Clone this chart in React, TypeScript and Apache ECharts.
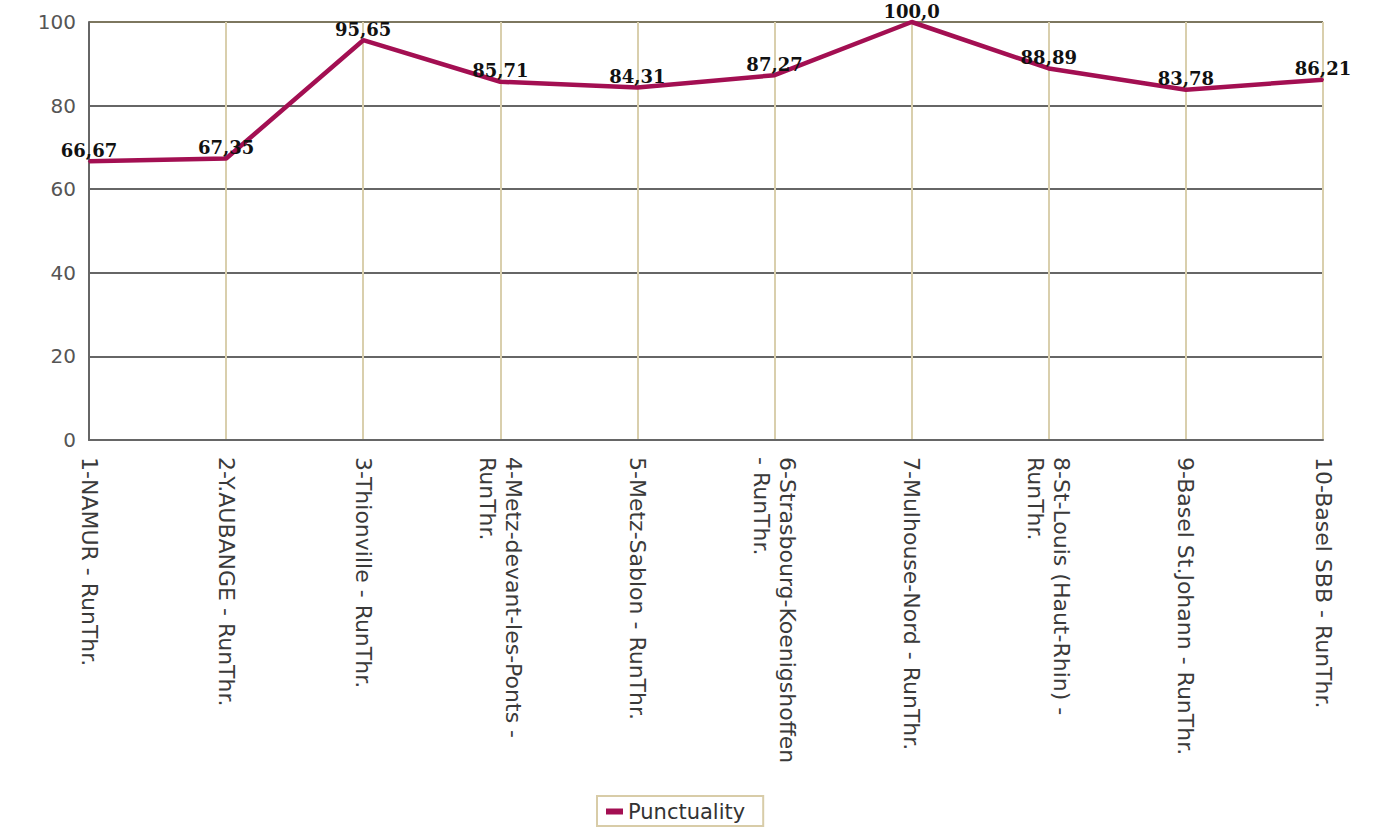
import React, { useEffect, useRef } from "react";
import * as echarts from "echarts";

const categories: string[] = [
  "1-NAMUR - RunThr.",
  "2-Y.AUBANGE - RunThr.",
  "3-Thionville - RunThr.",
  "4-Metz-devant-les-Ponts -\nRunThr.",
  "5-Metz-Sablon - RunThr.",
  "6-Strasbourg-Koenigshoffen\n- RunThr.",
  "7-Mulhouse-Nord - RunThr.",
  "8-St-Louis (Haut-Rhin) -\nRunThr.",
  "9-Basel St.Johann - RunThr.",
  "10-Basel SBB - RunThr.",
];

const punctuality: number[] = [66.67, 67.35, 95.65, 85.71, 84.31, 87.27, 100.0, 88.89, 83.78, 86.21];

const seriesName = "Punctuality";

const fmt = (v: number) => {
  const s = Number.isInteger(v) ? v.toFixed(1) : String(v);
  return s.replace(".", ",");
};

export default function App() {
  const ref = useRef<HTMLDivElement>(null);
  useEffect(() => {
    document.body.style.margin = "0";
    if (!ref.current) return;
    const chart = echarts.init(ref.current, undefined, { renderer: "svg" });
    chart.setOption({
      animation: false,
      backgroundColor: "#ffffff",
      grid: { left: 89, right: 50, top: 22, bottom: 388, containLabel: false },
      legend: {
        data: [{ name: seriesName, icon: "rect" }],
        left: 597,
        top: 796,
        padding: [5, 18, 4, 9],
        borderColor: "#d8cca8",
        borderWidth: 2,
        itemWidth: 17,
        itemHeight: 6,
        itemGap: 6,
        textStyle: { fontFamily: "DejaVu Sans", fontSize: 21, color: "#333" },
      },
      xAxis: {
        type: "category",
        data: categories,
        boundaryGap: false,
        axisLine: { show: true, lineStyle: { color: "#666", width: 2 } },
        axisTick: { show: false },
        splitLine: { show: true, lineStyle: { color: "#d9cfad", width: 2 } },
        axisLabel: {
          rotate: -90,
          margin: 17,
          interval: 0,
          fontFamily: "DejaVu Sans",
          fontSize: 22,
          lineHeight: 26,
          color: "#3a3a3a",
        },
      },
      yAxis: {
        type: "value",
        min: 0,
        max: 100,
        interval: 20,
        axisLine: { show: true, lineStyle: { color: "#666", width: 2 } },
        axisTick: { show: false },
        axisLabel: {
          margin: 13,
          fontFamily: "DejaVu Sans",
          fontSize: 20,
          color: "#555",
        },
        splitLine: {
          show: true,
          lineStyle: {
            color: ["#555", "#333", "#333", "#333", "#333", "#524a2a"],
            width: 1.6,
          },
        },
      },
      series: [
        {
          name: seriesName,
          type: "line",
          data: punctuality,
          clip: false,
          symbol: "circle",
          symbolSize: 2,
          showSymbol: true,
          lineStyle: { color: "#a30f52", width: 4.5 },
          itemStyle: { color: "#a30f52" },
          label: {
            show: true,
            position: "top",
            distance: 1,
            fontFamily: "DejaVu Serif",
            fontWeight: "bold",
            fontSize: 18,
            lineHeight: 18,
            color: "#111",
            formatter: (p: any) => fmt(p.value),
          },
        },
      ],
    });
    return () => chart.dispose();
  }, []);
  return <div ref={ref} style={{ width: 1373, height: 828 }} />;
}
